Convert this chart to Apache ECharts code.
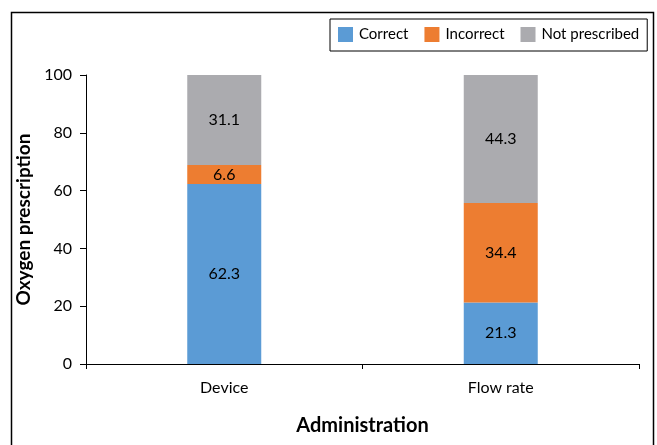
<!DOCTYPE html>
<html>
<head>
<meta charset="utf-8">
<script src="https://cdn.jsdelivr.net/npm/echarts@6/dist/echarts.min.js"></script>
<style>
  html, body { margin: 0; padding: 0; background: #fff; }
  #chart { width: 657px; height: 445px; }
</style>
</head>
<body>
<div id="chart"></div>
<script>
// Oxygen prescription by administration aspect (percent)
const categories = ['Device', 'Flow rate'];
const correct = [62.3, 21.3];
const incorrect = [6.6, 34.4];
const notPrescribed = [31.1, 44.3];
const yTicks = [0, 20, 40, 60, 80, 100];

const FONT = 'Lato, "Noto Sans", sans-serif';
const chart = echarts.init(document.getElementById('chart'), null, { renderer: 'canvas' });

function stackSeries(name, data, color) {
  return {
    name: name,
    type: 'bar',
    stack: 'total',
    data: data,
    barWidth: 74,
    itemStyle: { color: color },
    label: {
      show: true,
      position: 'inside',
      color: '#000',
      fontSize: 16,
      fontFamily: FONT,
      formatter: p => p.value.toFixed(1)
    }
  };
}

chart.setOption({
  animation: false,
  backgroundColor: '#fff',
  textStyle: { fontFamily: FONT },
  graphic: [{
    type: 'rect',
    shape: { x: 11.5, y: 12.5, width: 642, height: 460 },
    style: { fill: null, stroke: '#000', lineWidth: 1.5 },
    silent: true
  }],
  legend: {
    left: 330,
    top: 19,
    itemWidth: 15,
    itemHeight: 15,
    itemGap: 16,
    padding: [8, 8, 9, 8],
    borderColor: '#000',
    borderWidth: 1,
    icon: 'rect',
    textStyle: { fontSize: 15, color: '#000', fontFamily: FONT, padding: [0, 0, 0, 1] },
    data: ['Correct', 'Incorrect', 'Not prescribed']
  },
  grid: { left: 86, right: 18, top: 75, bottom: 81 },
  xAxis: {
    type: 'category',
    data: categories,
    name: 'Administration',
    nameLocation: 'middle',
    nameGap: 52,
    nameTextStyle: { fontSize: 20, fontWeight: 'bold', color: '#000', fontFamily: FONT },
    axisLine: { lineStyle: { color: '#000', width: 1 } },
    axisTick: { show: true, alignWithLabel: false, length: 5, lineStyle: { color: '#000' } },
    axisLabel: { fontSize: 16, color: '#000', margin: 16, fontFamily: FONT }
  },
  yAxis: {
    type: 'value',
    min: yTicks[0],
    max: yTicks[yTicks.length - 1],
    interval: yTicks[1] - yTicks[0],
    name: 'Oxygen prescription',
    nameLocation: 'middle',
    nameGap: 52,
    nameTextStyle: { fontSize: 19, fontWeight: 'bold', color: '#000', fontFamily: FONT },
    axisLine: { show: true, lineStyle: { color: '#000', width: 1 } },
    axisTick: { show: true, length: 6, lineStyle: { color: '#000' } },
    axisLabel: { fontSize: 16, color: '#000', margin: 14, fontFamily: FONT },
    splitLine: { show: false }
  },
  series: [
    stackSeries('Correct', correct, '#5B9BD5'),
    stackSeries('Incorrect', incorrect, '#ED7D31'),
    stackSeries('Not prescribed', notPrescribed, '#ABABAF')
  ]
});
</script>
</body>
</html>
